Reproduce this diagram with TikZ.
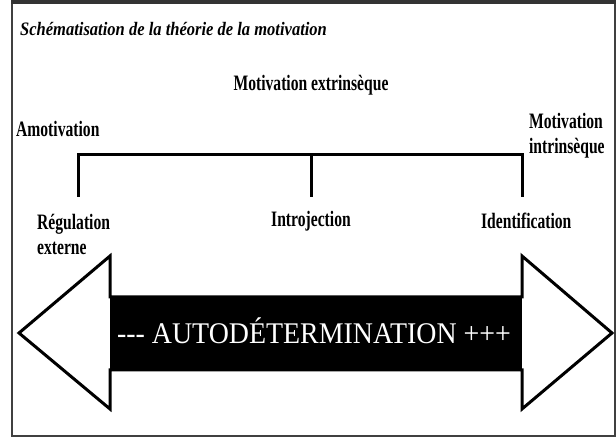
\documentclass[tikz,border=0pt]{standalone}
\usepackage{fontspec}
\setmainfont{Liberation Serif}
\tikzstyle{stage}=[
        font=\fontsize{22}{25}\selectfont\bfseries,
        xscale=0.71,
        inner sep=0pt,
        align=left
]
\tikzstyle{heading}=[
        font=\fontsize{19}{22}\selectfont\bfseries\itshape,
        xscale=0.87,
        inner sep=0pt
]
\tikzstyle{bracket}=[
        draw=black,
        line width=3pt
]
\tikzstyle{doublearrow}=[
        draw=black,
        fill=white,
        line width=3pt,
        line join=miter
]
\tikzstyle{shaft}=[
        fill=black
]
\tikzstyle{autotext}=[
        font=\fontsize{30}{32}\selectfont,
        text=white,
        xscale=0.93,
        inner sep=0pt
]

\begin{document}
\begin{tikzpicture}[x=1pt,y=-1pt]
                        \useasboundingbox (0,0) rectangle (616,438);

                        \draw[black!75, line width=1.5pt] (12,3) rectangle (615,436);
                        \fill[black!80] (11,0) rectangle (616,4);

                        \node[heading, anchor=base west] (title) at (20,36) {Schématisation de la théorie de la motivation};

                        \node[stage, anchor=base] (extr) at (311,91) {Motivation extrinsèque};
                        \node[stage, anchor=base west] (amot) at (16,137) {Amotivation};
                        \node[stage, anchor=base west] (intr) at (529,154) {Motivation\\intrinsèque};

                        \node[stage, anchor=base west] (regul) at (37,255) {Régulation\\externe};
                        \node[stage, anchor=base] (introj) at (311,227) {Introjection};
                        \node[stage, anchor=base west] (ident) at (481,229) {Identification};

                        \coordinate (kL) at (78,155);
                        \coordinate (kM) at (311,155);
                        \coordinate (kR) at (522,155);
                        \coordinate (tL) at (78,197);
                        \coordinate (tM) at (311,197);
                        \coordinate (tR) at (522,197);

                        \draw[bracket] (tL) -- (kL) -- (kR) -- (tR);
                        \draw[bracket] (kM) -- (tM);

                        \draw[doublearrow] (19,333) -- (110,256) -- (110,297) -- (522,297) -- (522,256)
                            -- (612,333) -- (522,409) -- (522,370) -- (110,370) -- (110,409) -- cycle;
                        \fill[shaft] (110,297) rectangle (522,370);

                        \node[autotext, anchor=base] (auto) at (314,344) {{-}{-}{-} AUTODÉTERMINATION +++};

                    \end{tikzpicture}
\end{document}
